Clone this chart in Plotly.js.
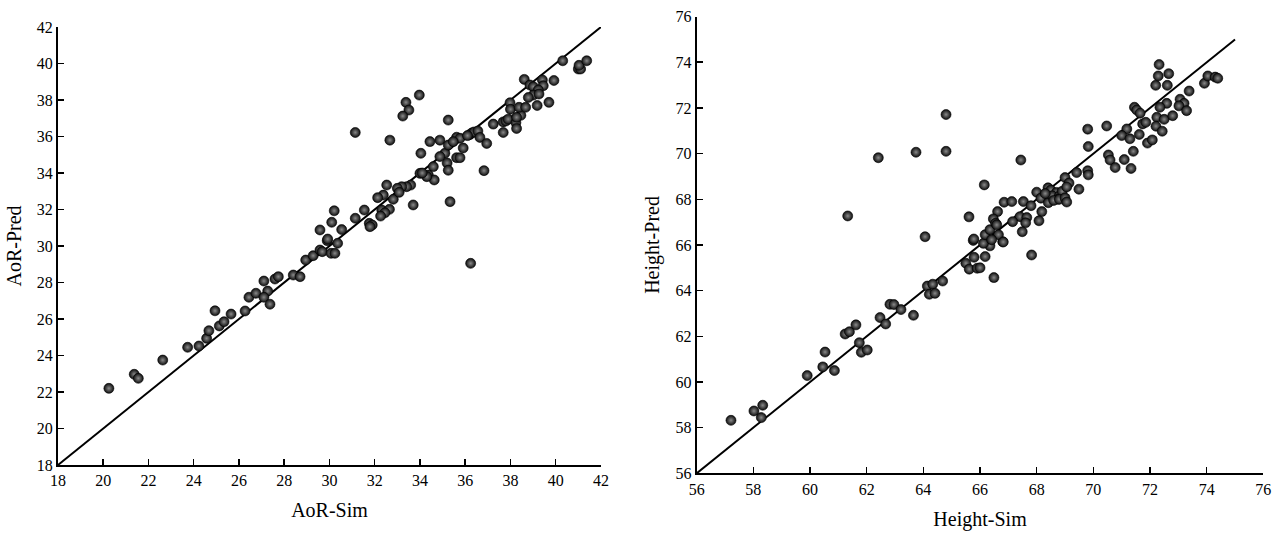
<!DOCTYPE html>
<html>
<head>
<meta charset="utf-8">
<script src="https://cdn.plot.ly/plotly-3.0.1.min.js"></script>
<style>html,body{margin:0;padding:0;background:#fff;}#chart{width:1280px;height:540px;}</style>
</head>
<body>
<div id="chart"></div>
<script>
// AoR panel
const aorSim = [20.25,21.37,21.55,22.63,23.73,24.23,24.57,24.67,24.94,25.13,25.34,25.65,26.27,26.44,26.75,27.1,27.27,27.1,27.37,27.59,27.74,28.4,28.7,28.95,29.28,29.58,29.68,29.9,30.07,30.24,30.36,30.21,30.1,29.58,30.54,29.92,31.14,31.54,31.76,31.89,31.79,32.31,32.65,32.45,32.26,32.53,32.38,32.13,32.82,33.59,33.41,33.19,33.0,33.08,33.7,35.33,31.14,32.67,33.38,33.51,33.24,33.97,34.04,34.44,34.88,35.1,34.88,34.59,34.37,34.63,34.3,34.0,34.1,35.25,35.25,35.2,35.25,35.62,35.77,35.47,35.62,35.77,35.91,36.2,36.3,36.4,36.56,36.1,36.65,36.95,36.83,37.24,37.68,37.8,37.9,37.68,36.24,37.98,38.0,38.24,38.27,38.46,38.27,38.38,38.67,39.18,38.61,38.86,39.01,39.41,39.45,39.23,39.01,38.79,39.26,39.7,39.92,40.31,41.0,41.1,41.03,41.37];
const aorPred = [22.2,22.97,22.75,23.75,24.45,24.52,24.94,25.36,26.45,25.62,25.85,26.27,26.44,27.19,27.41,28.08,27.53,27.19,26.81,28.19,28.32,28.41,28.32,29.23,29.47,29.78,29.69,30.29,29.6,29.6,30.15,31.93,31.3,30.88,30.9,30.38,31.52,31.97,31.24,31.15,31.06,31.97,32.01,31.82,31.64,33.34,32.79,32.65,32.56,33.34,33.25,33.25,33.16,32.94,32.25,32.43,36.22,35.8,37.87,37.45,37.12,38.27,35.08,35.72,35.8,35.08,34.9,34.35,33.89,33.62,33.8,33.98,34.0,36.9,35.53,34.55,34.15,35.96,35.9,35.72,34.84,34.84,35.37,36.1,36.2,36.25,36.3,36.05,35.95,35.62,34.13,36.68,36.8,36.85,36.95,36.22,29.05,37.85,37.49,36.76,36.44,37.16,37.05,37.6,37.6,37.7,39.13,38.82,38.73,39.1,38.78,38.55,38.27,38.14,38.33,37.87,39.07,40.15,39.7,39.7,39.9,40.15];
const aorLine = [18, 42];

// Height panel
const heightSim = [57.21,58.02,58.33,58.28,59.9,60.45,60.53,60.86,61.24,61.39,61.62,61.74,61.81,62.02,62.47,62.67,62.82,62.96,63.21,63.65,64.14,64.33,64.21,64.41,64.68,65.5,65.62,65.79,65.9,65.76,61.33,62.41,63.74,64.8,64.8,64.06,65.61,65.78,67.82,66.18,66.49,66.0,66.35,66.8,66.12,66.18,66.65,66.41,66.82,66.35,66.62,66.47,66.55,66.59,66.15,66.85,67.12,67.44,67.53,67.8,67.41,67.65,67.61,67.15,67.49,68.0,68.15,68.41,68.18,68.08,68.4,68.5,68.7,68.55,68.8,68.75,68.9,68.3,68.6,68.8,69.0,69.14,69.06,69.0,69.06,69.41,69.49,69.8,69.82,69.8,69.82,70.47,70.53,70.59,70.77,71.09,71.33,71.41,71.18,71.0,71.29,71.62,71.91,72.08,71.74,71.85,71.45,71.53,71.65,72.24,72.5,72.21,72.43,72.8,72.59,72.35,73.06,73.2,73.02,73.29,73.38,73.92,74.04,74.3,74.39,72.2,72.61,72.29,72.66,72.32];
const heightPred = [58.32,58.73,58.98,58.44,60.28,60.66,61.31,60.5,62.1,62.2,62.5,61.72,61.3,61.4,62.82,62.54,63.4,63.39,63.17,62.92,64.2,64.28,63.84,63.88,64.42,65.2,64.94,65.46,64.98,66.2,67.27,69.82,70.06,70.1,71.71,66.36,67.23,66.26,65.56,65.49,64.57,65.0,65.96,66.14,66.07,66.45,66.45,66.23,66.13,66.67,67.46,67.14,66.95,66.88,68.63,67.87,67.9,69.72,67.9,67.72,67.24,67.2,66.97,67.02,66.58,68.31,68.05,67.85,67.46,67.06,68.5,68.4,68.3,68.15,68.15,68.0,68.35,68.25,67.95,68.0,68.95,68.71,68.54,68.06,67.88,69.17,68.44,69.25,69.07,71.07,70.31,71.21,69.94,69.72,69.39,69.74,69.35,70.1,71.08,70.79,70.65,70.84,70.46,70.6,71.3,71.37,72.03,71.91,71.77,71.59,71.5,71.2,70.98,71.66,72.2,72.03,72.38,72.2,72.09,71.88,72.74,73.08,73.4,73.35,73.3,72.99,72.99,73.4,73.5,73.9];
const heightLine = [56, 75];

const marker = {
  size: 10,
  color: '#0d0d0d',
  gradient: {type: 'radial', color: '#8a8a8a'},
  line: {color: '#000', width: 0.6}
};

const traces = [
  {x: aorLine, y: aorLine, mode: 'lines', line: {color: '#000', width: 2}, xaxis: 'x', yaxis: 'y', hoverinfo: 'skip'},
  {x: aorSim, y: aorPred, mode: 'markers', marker: marker, xaxis: 'x', yaxis: 'y'},
  {x: heightLine, y: heightLine, mode: 'lines', line: {color: '#000', width: 2}, xaxis: 'x2', yaxis: 'y2', hoverinfo: 'skip'},
  {x: heightSim, y: heightPred, mode: 'markers', marker: marker, xaxis: 'x2', yaxis: 'y2'}
];

const font = {family: '"Liberation Serif", "Times New Roman", serif', color: '#000', size: 16};
const titleFont = {family: '"Liberation Serif", "Times New Roman", serif', color: '#000', size: 20};

function axis(range, dtick, domain, anchor, title, standoff) {
  return {
    range: range, dtick: dtick, tick0: range[0], domain: domain, anchor: anchor,
    showline: true, linecolor: '#000', linewidth: 2, mirror: false,
    ticks: 'inside', ticklen: 6, tickwidth: 1.5, tickcolor: '#000',
    showgrid: false, zeroline: false, tickfont: font,
    title: {text: title, font: titleFont, standoff: standoff}
  };
}

const layout = {
  width: 1280, height: 540,
  margin: {l: 0, r: 0, t: 0, b: 0},
  paper_bgcolor: '#fff', plot_bgcolor: '#fff',
  showlegend: false,
  xaxis: axis([18, 42], 2, [0.0453, 0.4695], 'y', 'AoR-Sim', 15),
  yaxis: axis([18, 42], 2, [0.1389, 0.95], 'x', 'AoR-Pred', 10),
  xaxis2: axis([56, 76], 2, [0.5443, 0.987], 'y2', 'Height-Sim', 15),
  yaxis2: axis([56, 76], 2, [0.1235, 0.9693], 'x2', 'Height-Pred', 10)
};

Plotly.newPlot('chart', traces, layout, {staticPlot: true});
</script>
</body>
</html>
